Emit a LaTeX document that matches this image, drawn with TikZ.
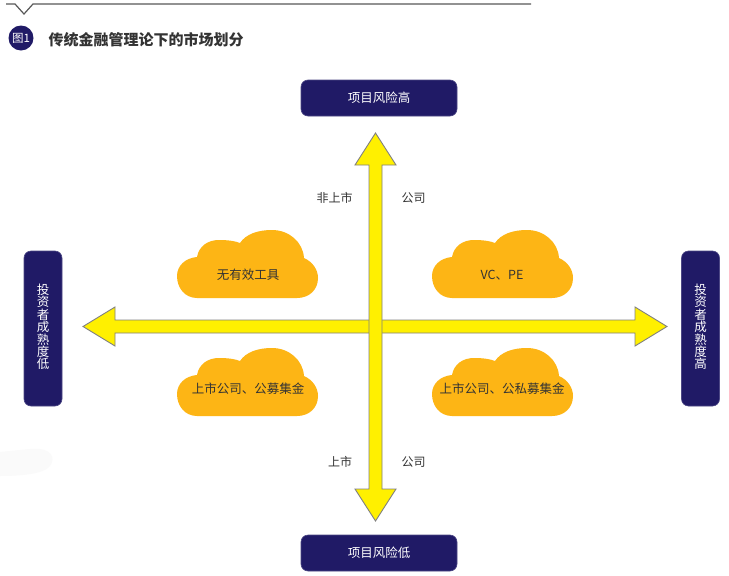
\documentclass[tikz,border=0pt]{standalone}
\usepackage{fontspec}
\setmainfont{Noto Sans CJK SC}
\definecolor{navy}{HTML}{201A66}
\definecolor{cloudc}{HTML}{FDB515}
\definecolor{arrowy}{HTML}{FFF000}
\definecolor{txt}{HTML}{333333}
\tikzset{
  navybox/.style={fill=navy, draw=navy!80!white, line width=0.6pt, rounded corners=7pt, text=white, font=\fontsize{12.5}{12.5}\selectfont},
  sidetext/.style={text=white, align=center, font=\fontsize{12.5}{12.4}\selectfont},
  lbl/.style={text=txt, font=\fontsize{12}{12}\selectfont},
  cloudtxt/.style={text=txt, font=\fontsize{12.5}{12.5}\selectfont},
  bigarrow/.style={fill=arrowy, draw=black!50, line width=0.9pt, line join=miter},
  cloudshape/.pic={
    \fill[cloudc] (20,68) .. controls (8,68) and (0,58) .. (0,46)
      .. controls (0,36) and (8,28) .. (20,27)
      .. controls (22,16) and (31,10) .. (42,10)
      .. controls (51,10) and (58,11) .. (63,13)
      .. controls (69,4) and (81,0) .. (95,0)
      .. controls (112,0) and (126,12) .. (127,28)
      .. controls (136,32) and (141,40) .. (141,48)
      .. controls (141,60) and (132,68) .. (120,68) -- cycle;
  }
}
\begin{document}
\begin{tikzpicture}[x=1pt,y=-1pt]
\useasboundingbox (0,0) rectangle (729,576);
\fill[white] (0,0) rectangle (729,576);
% header line with notch
\draw[black!65, line width=1.2pt] (6,4) -- (15,4) -- (24,14) -- (33,4) -- (531,4);
% header badge and title
\fill[navy] (21,38) circle (12.5pt);
\node[text=white, font=\fontsize{11.5}{11.5}\selectfont] (badge) at (21,38) {图1};
\node[anchor=west, text=txt, font=\fontsize{15}{15}\selectfont\bfseries] (title) at (45,40) {传统金融管理论下的市场划分};
% faint shadow
\fill[black!2] (0,452) -- (30,449) .. controls (52,447) and (56,458) .. (50,466) .. controls (44,474) and (20,476) .. (0,476) -- cycle;
% boxes
\node[navybox, minimum width=156pt, minimum height=36pt] (top) at (379,98) {项目风险高};
\node[navybox, minimum width=156pt, minimum height=36pt] (bottom) at (379,553) {项目风险低};
\node[navybox, minimum width=38pt, minimum height=155pt] (left) at (43,328.5) {};
\node[sidetext] (lefttext) at (43,327) {投\\资\\者\\成\\熟\\度\\低};
\node[navybox, minimum width=38pt, minimum height=155pt] (right) at (700.5,328.5) {};
\node[sidetext] (righttext) at (700.5,327) {投\\资\\者\\成\\熟\\度\\高};
% clouds
\pic at (177,230) {cloudshape};
\pic at (432,230) {cloudshape};
\pic at (177,348) {cloudshape};
\pic at (432,348) {cloudshape};
\node[cloudtxt] (c1) at (248,275) {无有效工具};
\node[cloudtxt] (c2) at (502,275) {VC、PE};
\node[cloudtxt] (c3) at (248,389) {上市公司、公募集金};
\node[cloudtxt] (c4) at (502,389) {上市公司、公私募集金};
% arrows
\draw[bigarrow] (83,326.5) -- (115,307) -- (115,320) -- (635,320) -- (635,307) -- (667,326.5)
  -- (635,346) -- (635,333) -- (115,333) -- (115,346) -- cycle;
\draw[bigarrow] (375.5,133) -- (396,165) -- (382,165) -- (382,489) -- (396,489) -- (375.5,521)
  -- (355,489) -- (369,489) -- (369,165) -- (355,165) -- cycle;
% labels
\node[lbl] (l1) at (334.5,198) {非上市};
\node[lbl] (l2) at (413.5,198) {公司};
\node[lbl] (l3) at (340,462) {上市};
\node[lbl] (l4) at (413.5,462) {公司};
\end{tikzpicture}
\end{document}
